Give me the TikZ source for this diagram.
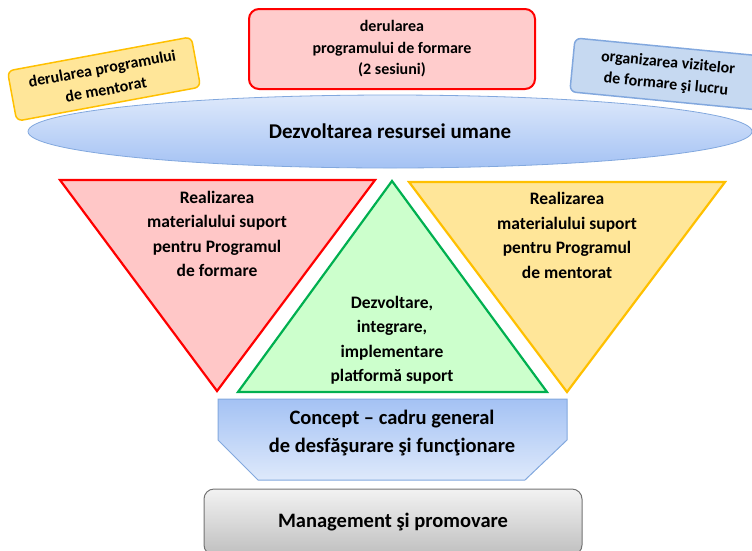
\documentclass[tikz,border=0pt]{standalone}
\usepackage{fontspec}
\setmainfont{Carlito}
\usetikzlibrary{shapes.geometric}

\definecolor{pinkfill}{RGB}{255,204,204}
\definecolor{trired}{RGB}{255,199,199}
\definecolor{yelfill}{RGB}{255,230,153}
\definecolor{yelline}{RGB}{255,192,0}
\definecolor{grnfill}{RGB}{204,255,204}
\definecolor{grnline}{RGB}{0,176,80}
\definecolor{bluefill}{RGB}{198,217,241}
\definecolor{blueline}{RGB}{130,168,222}
\definecolor{bluetop}{RGB}{222,233,251}
\definecolor{bluebot}{RGB}{164,194,244}

\tikzset{
	txt/.style={font=\bfseries\fontsize{17.5}{24.5}\selectfont, align=center, text=black},
	sidebox/.style={rectangle, rounded corners=6pt, line width=1.5pt, align=center,
		font=\bfseries\fontsize{16}{21.5}\selectfont},
}

\begin{document}
\begin{tikzpicture}[x=1pt,y=-1pt]
	\clip (0,0) rectangle (752,550);
	
	% resurse umane
	\node[ellipse, draw=blueline, line width=0.8pt, top color=bluetop, bottom color=bluebot, minimum width=724pt, minimum height=73pt,
		font=\bfseries\fontsize{21}{24}\selectfont] (hr) at (390,131.5) {Dezvoltarea resursei umane};
	\node[sidebox, draw=red, fill=pinkfill, line width=2pt, rounded corners=10pt, minimum width=286pt, minimum height=80pt] (train) at (392,49) {derularea\\programului de formare\\(2 sesiuni)};
	\node[sidebox, draw=yelline, fill=yelfill, minimum width=187pt, minimum height=51pt, rotate=10.5] (mentor) at (104,79) {derularea programului\\de mentorat};
	\node[sidebox, draw=blueline, fill=bluefill, minimum width=190pt, minimum height=54pt, rotate=-5.5] (visit) at (667,74) {organizarea vizitelor\\de formare şi lucru};
	
	% triunghiuri
	\draw[fill=trired, draw=red, line width=2.2pt] (60,180) -- (375,180) -- (217,391) -- cycle;
	\draw[fill=grnfill, draw=grnline, line width=2.2pt] (392,181) -- (547,392) -- (238,392) -- cycle;
	\draw[fill=yelfill, draw=yelline, line width=2.2pt] (409,182) -- (725,182) -- (567,392) -- cycle;
	\node[txt] (matform) at (217,234) {Realizarea\\materialului suport\\pentru Programul\\de formare};
	\node[txt] (platf) at (392,340) {Dezvoltare,\\integrare,\\implementare\\platformă suport};
	\node[txt] (matment) at (567,235.5) {Realizarea\\materialului suport\\pentru Programul\\de mentorat};
	
	% baza
	\shade[top color=bluebot, bottom color=bluetop, postaction={draw=blueline, line width=1pt}]
		(218,399) -- (567,399) -- (567,440) -- (525,480) -- (258,480) -- (218,440) -- cycle;
	\node[txt, font=\bfseries\fontsize{20.5}{28}\selectfont] (concept) at (392,433) {Concept – cadru general\\de desfăşurare şi funcţionare};
	\node[rectangle, rounded corners=10pt, draw=black!55, line width=1pt, top color=black!5, bottom color=black!25,
		minimum width=378pt, minimum height=66pt, font=\bfseries\fontsize{20.5}{24}\selectfont] (mgmt) at (393,522) {Management şi promovare};
\end{tikzpicture}
\end{document}
